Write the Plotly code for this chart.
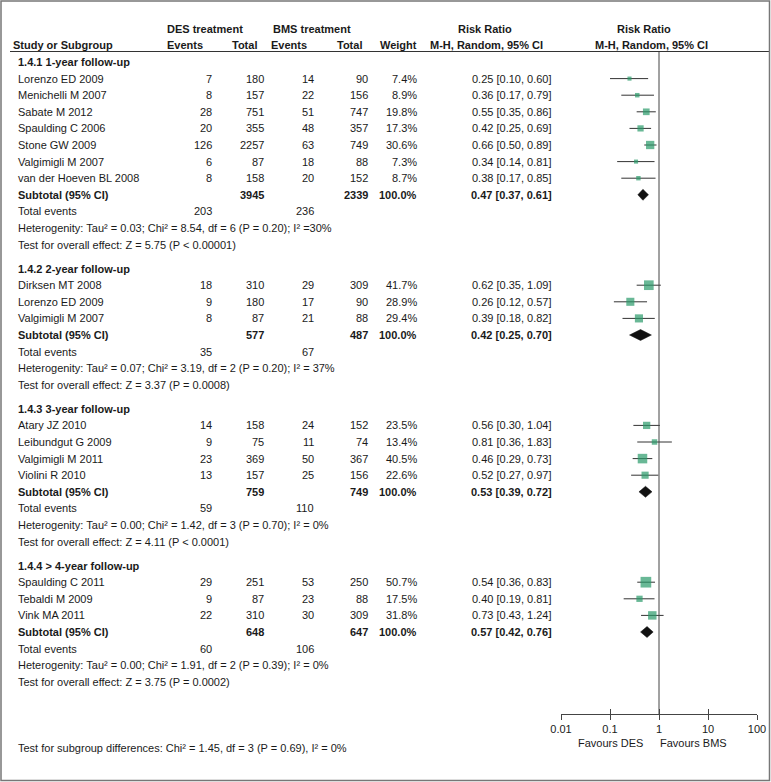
import plotly.graph_objects as go

W, H = 771, 782

# ---------------- data ----------------
group_titles = ["1.4.1 1-year follow-up", "1.4.2 2-year follow-up",
                "1.4.3 3-year follow-up", "1.4.4 > 4-year follow-up"]

g1_studies = ["Lorenzo ED 2009", "Menichelli M 2007", "Sabate M 2012", "Spaulding C 2006",
              "Stone GW 2009", "Valgimigli M 2007", "van der Hoeven BL 2008"]
g1_des_events = [7, 8, 28, 20, 126, 6, 8]
g1_des_total = [180, 157, 751, 355, 2257, 87, 158]
g1_bms_events = [14, 22, 51, 48, 63, 18, 20]
g1_bms_total = [90, 156, 747, 357, 749, 88, 152]
g1_weight = [7.4, 8.9, 19.8, 17.3, 30.6, 7.3, 8.7]
g1_rr = [0.25, 0.36, 0.55, 0.42, 0.66, 0.34, 0.38]
g1_lo = [0.10, 0.17, 0.35, 0.25, 0.50, 0.14, 0.17]
g1_hi = [0.60, 0.79, 0.86, 0.69, 0.89, 0.81, 0.85]

g2_studies = ["Dirksen MT 2008", "Lorenzo ED 2009", "Valgimigli M 2007"]
g2_des_events = [18, 9, 8]
g2_des_total = [310, 180, 87]
g2_bms_events = [29, 17, 21]
g2_bms_total = [309, 90, 88]
g2_weight = [41.7, 28.9, 29.4]
g2_rr = [0.62, 0.26, 0.39]
g2_lo = [0.35, 0.12, 0.18]
g2_hi = [1.09, 0.57, 0.82]

g3_studies = ["Atary JZ 2010", "Leibundgut G 2009", "Valgimigli M 2011", "Violini R 2010"]
g3_des_events = [14, 9, 23, 13]
g3_des_total = [158, 75, 369, 157]
g3_bms_events = [24, 11, 50, 25]
g3_bms_total = [152, 74, 367, 156]
g3_weight = [23.5, 13.4, 40.5, 22.6]
g3_rr = [0.56, 0.81, 0.46, 0.52]
g3_lo = [0.30, 0.36, 0.29, 0.27]
g3_hi = [1.04, 1.83, 0.73, 0.97]

g4_studies = ["Spaulding C 2011", "Tebaldi M 2009", "Vink MA 2011"]
g4_des_events = [29, 9, 22]
g4_des_total = [251, 87, 310]
g4_bms_events = [53, 23, 30]
g4_bms_total = [250, 88, 309]
g4_weight = [50.7, 17.5, 31.8]
g4_rr = [0.54, 0.40, 0.73]
g4_lo = [0.36, 0.19, 0.43]
g4_hi = [0.83, 0.81, 1.24]

sub_des_total = [3945, 577, 759, 648]
sub_bms_total = [2339, 487, 749, 647]
sub_rr = [0.47, 0.42, 0.53, 0.57]
sub_lo = [0.37, 0.25, 0.39, 0.42]
sub_hi = [0.61, 0.70, 0.72, 0.76]
tot_des_events = [203, 35, 59, 60]
tot_bms_events = [236, 67, 110, 106]
het_text = [
    "Heterogenity: Tau² = 0.03; Chi² = 8.54, df = 6 (P = 0.20); I² =30%",
    "Heterogenity: Tau² = 0.07; Chi² = 3.19, df = 2 (P = 0.20); I² = 37%",
    "Heterogenity: Tau² = 0.00; Chi² = 1.42, df = 3 (P = 0.70); I² = 0%",
    "Heterogenity: Tau² = 0.00; Chi² = 1.91, df = 2 (P = 0.39); I² = 0%",
]
overall_text = [
    "Test for overall effect: Z = 5.75 (P < 0.00001)",
    "Test for overall effect: Z = 3.37 (P = 0.0008)",
    "Test for overall effect: Z = 4.11 (P < 0.0001)",
    "Test for overall effect: Z = 3.75 (P = 0.0002)",
]
subgroup_diff_text = "Test for subgroup differences: Chi² = 1.45, df = 3 (P = 0.69), I² = 0%"

axis_ticks = [0.01, 0.1, 1, 10, 100]
axis_ticklabels = ["0.01", "0.1", "1", "10", "100"]

groups = [
    (g1_studies, g1_des_events, g1_des_total, g1_bms_events, g1_bms_total, g1_weight, g1_rr, g1_lo, g1_hi),
    (g2_studies, g2_des_events, g2_des_total, g2_bms_events, g2_bms_total, g2_weight, g2_rr, g2_lo, g2_hi),
    (g3_studies, g3_des_events, g3_des_total, g3_bms_events, g3_bms_total, g3_weight, g3_rr, g3_lo, g3_hi),
    (g4_studies, g4_des_events, g4_des_total, g4_bms_events, g4_bms_total, g4_weight, g4_rr, g4_lo, g4_hi),
]

# ---------------- layout constants ----------------
FONT = "Liberation Sans, Arial, sans-serif"
FS = 11
TXT = "#1a1a1a"
GREEN = "#2a9a6a"
ROW_H = 16.6
GROUP_GAP = 24.0
Y_START = 62.0
AXIS_Y = 714
COL_NAME = 18
COL_DE, COL_DT, COL_BE, COL_BT, COL_W, COL_CI = 212, 264, 314, 368, 417, 552
PLOT_L, PLOT_R = 561, 757


def px(x):
    return x / W


ann = []


def text(x, y, s, anchor="left", bold=False, size=FS):
    if bold:
        s = "<b>" + s + "</b>"
    ann.append(dict(x=px(x), y=y, xref="paper", yref="y", text=s, showarrow=False,
                    xanchor=anchor, yanchor="middle", borderpad=0, borderwidth=0,
                    font=dict(family=FONT, size=size, color=TXT)))


# headers
text(205, 29, "DES treatment", "center", True)
text(312, 29, "BMS treatment", "center", True)
text(485, 29, "Risk Ratio", "center", True)
text(644, 29, "Risk Ratio", "center", True)
text(13, 45, "Study or Subgroup", "left", True)
text(203, 45, "Events", "right", True)
text(257, 45, "Total", "right", True)
text(307, 45, "Events", "right", True)
text(362, 45, "Total", "right", True)
text(417, 45, "Weight", "right", True)
text(543, 45, "M-H, Random, 95% CI", "right", True)
text(651, 45, "M-H, Random, 95% CI", "center", True)

ci_x, ci_y = [], []
mk_x, mk_y, mk_s = [], [], []
diamonds = []

y = Y_START
for gi, (names, de, dt, be, bt, w, rr, lo, hi) in enumerate(groups):
    text(COL_NAME, y, group_titles[gi], "left", True)
    y += ROW_H
    for i in range(len(names)):
        text(COL_NAME, y, names[i])
        text(COL_DE, y, str(de[i]), "right")
        text(COL_DT, y, str(dt[i]), "right")
        text(COL_BE, y, str(be[i]), "right")
        text(COL_BT, y, str(bt[i]), "right")
        text(COL_W, y, f"{w[i]:.1f}%", "right")
        text(COL_CI, y, f"{rr[i]:.2f} [{lo[i]:.2f}, {hi[i]:.2f}]", "right")
        ci_x += [lo[i], hi[i], None]
        ci_y += [y, y, None]
        mk_x.append(rr[i])
        mk_y.append(y)
        mk_s.append(max(4.0, 1.5 * w[i] ** 0.5))
        y += ROW_H
    # subtotal
    text(COL_NAME, y, "Subtotal (95% CI)", "left", True)
    text(COL_DT, y, str(sub_des_total[gi]), "right", True)
    text(COL_BT, y, str(sub_bms_total[gi]), "right", True)
    text(COL_W, y, "100.0%", "right", True)
    text(COL_CI, y, f"{sub_rr[gi]:.2f} [{sub_lo[gi]:.2f}, {sub_hi[gi]:.2f}]", "right", True)
    diamonds.append((sub_lo[gi], sub_rr[gi], sub_hi[gi], y))
    y += ROW_H
    text(COL_NAME, y, "Total events")
    text(COL_DE, y, str(tot_des_events[gi]), "right")
    text(COL_BE, y, str(tot_bms_events[gi]), "right")
    y += ROW_H
    text(COL_NAME, y, het_text[gi])
    y += ROW_H
    text(COL_NAME, y, overall_text[gi])
    y += GROUP_GAP

text(COL_NAME, 748, subgroup_diff_text)
text(610, 743, "Favours DES", "center")
text(693, 743, "Favours BMS", "center")

fig = go.Figure()
fig.add_trace(go.Scatter(x=ci_x, y=ci_y, mode="lines", line=dict(color="#333333", width=1),
                         hoverinfo="skip", showlegend=False))
fig.add_trace(go.Scatter(x=mk_x, y=mk_y, mode="markers",
                         marker=dict(symbol="square", size=mk_s, color=GREEN, line=dict(width=0)),
                         showlegend=False))
DH = 5.5
for lo, c, hi, yy in diamonds:
    fig.add_trace(go.Scatter(x=[lo, c, hi, c, lo], y=[yy, yy - DH, yy, yy + DH, yy],
                             mode="lines", fill="toself", fillcolor="#111111",
                             line=dict(color="#111111", width=0.5), showlegend=False,
                             hoverinfo="skip"))
# helper trace for the inner-tick overlay axis
fig.add_trace(go.Scatter(x=[1], y=[-50], xaxis="x2", mode="markers",
                         marker=dict(opacity=0), showlegend=False, hoverinfo="skip"))

axis_common = dict(type="log", range=[-2, 2], domain=[px(PLOT_L), px(PLOT_R)],
                   anchor="free", position=1 - AXIS_Y / H, showgrid=False, zeroline=False,
                   tickvals=axis_ticks, ticktext=axis_ticklabels, ticklen=5,
                   tickcolor="#444444", tickwidth=1, automargin=False)

fig.update_layout(
    width=W, height=H, margin=dict(l=0, r=0, t=0, b=0, pad=0, autoexpand=False),
    paper_bgcolor="white", plot_bgcolor="rgba(0,0,0,0)",
    xaxis=dict(**axis_common, ticks="outside", showline=True, linecolor="#444444", linewidth=1,
               tickfont=dict(family=FONT, size=FS, color=TXT)),
    xaxis2=dict(**axis_common, overlaying="x", ticks="inside", showline=False,
                showticklabels=False),
    yaxis=dict(range=[H, 0], domain=[0, 1], visible=False, fixedrange=True, automargin=False),
    annotations=ann,
    shapes=[
        dict(type="line", xref="x", yref="y", x0=1, x1=1, y0=52, y1=AXIS_Y,
             line=dict(color="#444444", width=1)),
        dict(type="line", xref="paper", yref="y", x0=px(10), x1=px(769), y0=51.5, y1=51.5,
             line=dict(color="#333333", width=1)),
        dict(type="rect", xref="paper", yref="paper", x0=px(1), x1=px(769.5), y0=1 - 780.5 / H,
             y1=1 - 1 / H, line=dict(color="#777777", width=1.5)),
    ],
)

fig.write_html("out.html", config={"displayModeBar": False},
               post_script="document.body.style.margin='0';document.body.style.overflow='hidden';")
